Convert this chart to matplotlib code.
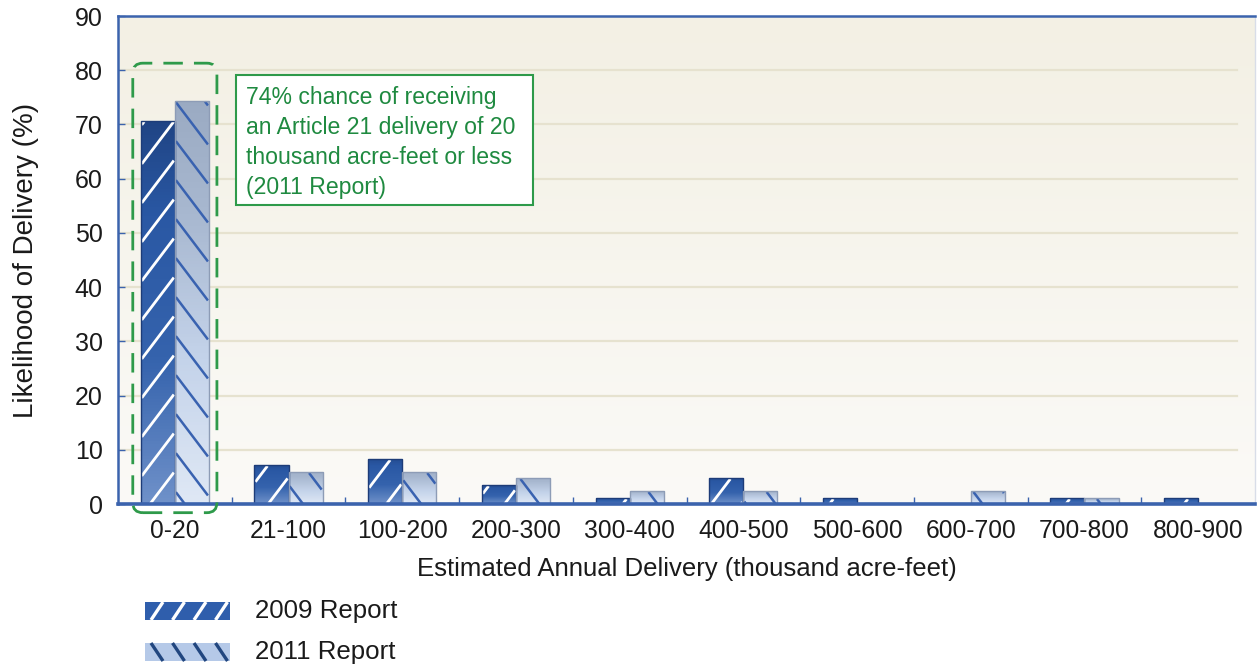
import numpy as np
import matplotlib
matplotlib.use("Agg")
import matplotlib.pyplot as plt
from matplotlib.patches import Rectangle, FancyBboxPatch
from matplotlib.lines import Line2D
from matplotlib.transforms import IdentityTransform
from matplotlib.colors import LinearSegmentedColormap

plt.rcParams['font.family'] = ['Liberation Sans', 'DejaVu Sans']

categories = ["0-20", "21-100", "100-200", "200-300", "300-400", "400-500",
              "500-600", "600-700", "700-800", "800-900"]
report_2009 = [70.7, 7.2, 8.3, 3.5, 1.1, 4.8, 1.1, 0.0, 1.1, 1.1]
report_2011 = [74.4, 5.9, 5.9, 4.8, 2.4, 2.4, 0.0, 2.4, 1.1, 0.0]
series_labels = ["2009 Report", "2011 Report"]
y_ticks = list(range(0, 91, 10))
annotation = ("74% chance of receiving\nan Article 21 delivery of 20\n"
              "thousand acre-feet or less\n(2011 Report)")

W, H = 1257, 670
fig = plt.figure(figsize=(W / 100, H / 100), dpi=100)
fig.patch.set_facecolor("white")
ax = fig.add_axes([118 / W, 1 - 504 / H, (1255 - 118) / W, (504 - 16) / H])

n = len(categories)
x = np.arange(n)
bw = 0.30
ax.set_xlim(-0.5, n - 0.5)
ax.set_ylim(0, 90)

bg = LinearSegmentedColormap.from_list("bg", ["#fbfaf7", "#f3f0e4"])
ax.imshow(np.linspace(0, 1, 256).reshape(-1, 1), cmap=bg, origin="lower",
          extent=[0, 1, 0, 1], transform=ax.transAxes, aspect="auto", zorder=0)
ax.set_facecolor("#f7f5ee")

for yt in y_ticks[1:]:
    ax.axhline(yt, xmin=0.0, xmax=0.984, color="#e6e2cf", lw=1.6, zorder=1)

cm09 = LinearSegmentedColormap.from_list("c09", ["#6f91c9", "#3563ad", "#2a58a4", "#1a3a74"])
cm11 = LinearSegmentedColormap.from_list("c11", ["#dfe8f5", "#c4d3ea", "#a8b8d0", "#97a7bf"])

b09 = ax.bar(x - bw / 2, report_2009, width=bw, facecolor="none",
             edgecolor="#1d3c78", lw=1.0, zorder=3)
b11 = ax.bar(x + bw / 2, report_2011, width=bw, facecolor="none",
             edgecolor="#8d9cb6", lw=1.0, zorder=3)

fig.canvas.draw()
ident = IdentityTransform()


def clipped_segment(s, c, px0, px1, py0, py1):
    lo, hi = px0, px1
    a, b = (py0 - c) / s, (py1 - c) / s
    lo = max(lo, min(a, b))
    hi = min(hi, max(a, b))
    if hi - lo < 0.5:
        return None
    return [lo, hi], [s * lo + c, s * hi + c]


def fill_bar(rect, cmap, line_color, sign, lw, base):
    h = rect.get_height()
    if h <= 0:
        return
    x0 = rect.get_x()
    x1 = x0 + rect.get_width()
    top = max(min(h / 80.0, 1.0), 0.8)
    grad = np.linspace(0, top, 128).reshape(-1, 1)
    im = ax.imshow(grad, cmap=cmap, vmin=0, vmax=1, origin="lower",
                   extent=[x0, x1, 0, h], aspect="auto", zorder=2)
    im.set_clip_path(rect)
    (px0, py0) = ax.transData.transform((x0, 0))
    (px1, py1) = ax.transData.transform((x1, h))
    inset = 1.0
    px0, px1, py0, py1 = px0 + inset, px1 - inset, py0, py1 - inset
    s = 1.32 * sign
    spacing = 39.0
    cs = [py - s * px for px in (px0, px1) for py in (py0, py1)]
    k0 = int(np.floor((min(cs) - base) / spacing)) - 1
    k1 = int(np.ceil((max(cs) - base) / spacing)) + 1
    for k in range(k0, k1 + 1):
        seg = clipped_segment(s, base + k * spacing, px0, px1, py0, py1)
        if seg is None:
            continue
        ax.add_line(Line2D(seg[0], seg[1], transform=ident, color=line_color,
                           lw=lw, zorder=2.5, solid_capstyle="butt"))


for r in b09:
    fill_bar(r, cm09, "white", 1, 2.0, 7.0)
for r in b11:
    fill_bar(r, cm11, "#3962b0", -1, 1.8, 20.0)

blue = "#3b63ad"
for s_ in ["left", "top"]:
    ax.spines[s_].set_color(blue)
    ax.spines[s_].set_linewidth(1.8)
ax.spines["bottom"].set_color(blue)
ax.spines["bottom"].set_linewidth(2.6)
ax.spines["right"].set_color("#d8dde8")
ax.spines["right"].set_linewidth(1.0)
for s_ in ax.spines.values():
    s_.set_zorder(4)

ax.set_yticks(y_ticks)
ax.set_yticklabels([str(v) for v in y_ticks], fontsize=18, color="#1a1a1a")
ax.tick_params(axis="y", direction="in", length=5, width=1, color=blue, pad=11)
ax.set_xticks(x)
ax.set_xticklabels(categories, fontsize=17.7, color="#1a1a1a")
ax.tick_params(axis="x", length=0, pad=11)
ax.set_xticks(np.arange(0.5, n - 0.5, 1.0), minor=True)
ax.tick_params(axis="x", which="minor", direction="in", length=5, width=1, color=blue)

ax.set_ylabel("Likelihood of Delivery (%)", fontsize=20, color="#1a1a1a", labelpad=26)
ax.set_xlabel("Estimated Annual Delivery (thousand acre-feet)", fontsize=18.5,
              color="#1a1a1a", labelpad=10)

green = "#2e9a4a"
(bx0, by0) = ax.transData.transform((x[0] - 0.37, -1.6))
(bx1, by1) = ax.transData.transform((x[0] + 0.37, 81.3))
box = FancyBboxPatch((bx0, by0), bx1 - bx0, by1 - by0,
                     boxstyle="round,pad=0,rounding_size=10", transform=ident,
                     fill=False, edgecolor=green, lw=2.0, linestyle=(0, (7, 4)),
                     zorder=5, clip_on=False)
ax.add_artist(box)

ax.add_patch(Rectangle((0.54, 55.1), 3.15 - 0.54, 79.1 - 55.1, facecolor="white",
                       edgecolor=green, lw=1.5, zorder=5))
ax.text(0.625, 77.0, annotation, fontsize=16.6, color="#1f8a40", va="top", ha="left",
        linespacing=1.38, zorder=6)


def legend_swatch(y_top, face, line_color, sign, label):
    x0, x1 = 145, 230
    y0 = H - (y_top + 18)
    r = Rectangle((x0, y0), x1 - x0, 18, transform=ident, facecolor=face,
                  edgecolor="none")
    fig.add_artist(r)
    for k in range(4):
        cx = x0 + 12 + k * 21.5
        xs = [cx - 6, cx + 6]
        ys = [y0, y0 + 18] if sign > 0 else [y0 + 18, y0]
        fig.add_artist(Line2D(xs, ys, transform=ident, color=line_color, lw=2.4,
                              solid_capstyle="butt"))
    fig.text(255 / W, 1 - (y_top + 9) / H, label, fontsize=18.6, color="#1a1a1a",
             va="center", ha="left")


legend_swatch(602, "#2f5eac", "white", 1, series_labels[0])
legend_swatch(643, "#b5c9e8", "#21467f", -1, series_labels[1])

fig.savefig("out.png", dpi=100, facecolor="white")
